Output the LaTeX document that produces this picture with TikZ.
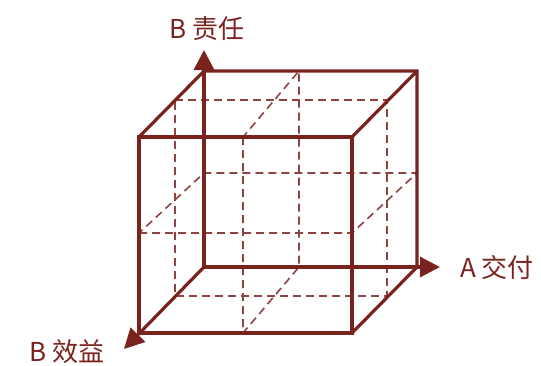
\documentclass[tikz,border=0pt]{standalone}
\usepackage{fontspec}
\newfontfamily\cjk{Noto Sans CJK SC}
\usetikzlibrary{arrows.meta}
\definecolor{cubered}{RGB}{122,34,30}
\tikzset{
  edge/.style={draw=cubered, line width=3.2pt, line join=miter},
  hidden/.style={draw=cubered!85, line width=1.6pt, dash pattern=on 8pt off 5pt},
  axis/.style={edge, -{Triangle[length=20pt,width=20pt]}},
  lbl/.style={text=cubered, font=\cjk\fontsize{26}{30}\selectfont, inner sep=0pt}
}
\begin{document}
\begin{tikzpicture}[x=1pt,y=-1pt]
\useasboundingbox (0,0) rectangle (541,365);
% corners
\coordinate (F1) at (139,137);
\coordinate (F2) at (352,137);
\coordinate (F3) at (352,333);
\coordinate (F4) at (139,333);
\coordinate (B1) at (204,71);
\coordinate (B2) at (417,71);
\coordinate (B3) at (417,267);
\coordinate (B4) at (204,267);
% axis tips
\coordinate (Up) at (204,50);
\coordinate (Right) at (440,267);
\coordinate (DownLeft) at (124,349);
% depth mid rectangle
\coordinate (M1) at (175,100);
\coordinate (M2) at (387,100);
\coordinate (M3) at (387,296);
\coordinate (M4) at (175,296);
% vertical midplane
\coordinate (VF1) at (243,137);
\coordinate (VF2) at (243,333);
\coordinate (VB1) at (299,71);
\coordinate (VB2) at (299,267);
% horizontal midplane
\coordinate (HF1) at (139,233);
\coordinate (HF2) at (352,233);
\coordinate (HB1) at (204,173);
\coordinate (HB2) at (417,173);
% dashed
\draw[hidden] (M1) -- (M2) -- (M3) -- (M4) -- cycle;
\draw[hidden] (VF1) -- (VF2) -- (VB2) -- (VB1) -- cycle;
\draw[hidden] (HF1) -- (HF2) -- (HB2) -- (HB1) -- cycle;
% solid edges
\draw[edge] (F1) -- (F2) -- (F3) -- (F4) -- cycle;
\draw[edge] (F1) -- (B1) -- (B2) -- (B3) -- (F3);
\draw[edge] (F2) -- (B2);
% axes
\draw[axis] (B4) -- (Up);
\draw[axis] (B4) -- (Right);
\draw[axis] (B4) -- (DownLeft);
% labels
\node[lbl] (lb1) at (207,29) {B 责任};
\node[lbl] (la) at (497,268) {A 交付};
\node[lbl] (lb2) at (67,352) {B 效益};
\end{tikzpicture}
\end{document}
